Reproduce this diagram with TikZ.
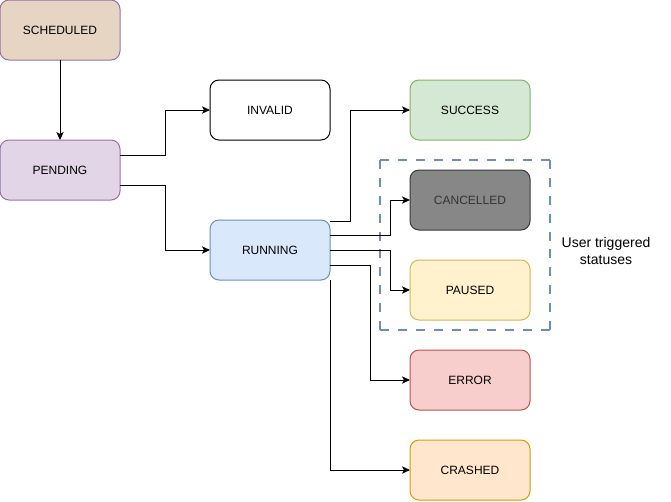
\documentclass[tikz,border=0pt]{standalone}
\usepackage{fontspec}
\setmainfont{Liberation Sans}
\usetikzlibrary{arrows.meta,calc}
\definecolor{schedfill}{HTML}{E6D5C3}
\definecolor{purplestroke}{HTML}{9673A6}
\definecolor{pendfill}{HTML}{E1D5E7}
\definecolor{runfill}{HTML}{DAE8FC}
\definecolor{bluestroke}{HTML}{6C8EBF}
\definecolor{succfill}{HTML}{D5E8D4}
\definecolor{greenstroke}{HTML}{82B366}
\definecolor{cancfill}{HTML}{878787}
\definecolor{cancstroke}{HTML}{36393D}
\definecolor{canctext}{HTML}{333333}
\definecolor{pausfill}{HTML}{FFF2CC}
\definecolor{pausstroke}{HTML}{D6B656}
\definecolor{errfill}{HTML}{F8CECC}
\definecolor{errstroke}{HTML}{B85450}
\definecolor{crashfill}{HTML}{FFE6CC}
\definecolor{crashstroke}{HTML}{D79B00}
\tikzset{
  state/.style={draw, rounded corners=6.75pt, minimum width=90pt, minimum height=45pt,
    line width=0.75pt, outer sep=0pt, inner sep=0pt, font=\fontsize{9}{11}\selectfont},
  arr/.style={draw, line width=0.75pt, -{Stealth[length=6pt,width=5.5pt,inset=1.5pt]}},
  ugbox/.style={minimum width=127.5pt, minimum height=127.5pt, inner sep=0pt, outer sep=0pt},
  ugline/.style={draw=bluestroke, line width=2pt, dash pattern=on 6.71pt off 6.71pt},
  lbl/.style={align=center, font=\fontsize{10.5}{12.5}\selectfont, inner sep=0pt}
}
\begin{document}
\begin{tikzpicture}[x=0.75pt, y=-0.75pt]
\useasboundingbox (0,0) rectangle (671,501);
\node[ugbox] (ug) at (465,245) {};
\draw[ugline] (ug.north west) -- (ug.north east);
\draw[ugline] (ug.north east) -- (ug.south east);
\draw[ugline] (ug.south east) -- (ug.south west);
\draw[ugline] (ug.south west) -- (ug.north west);
\node[lbl] (uglbl) at (606,251) {User triggered\\statuses};
\node[state, fill=schedfill, draw=purplestroke] (sched) at (60,30) {SCHEDULED};
\node[state, fill=pendfill, draw=purplestroke] (pend) at (60,170) {PENDING};
\node[state, fill=white, draw=black] (inv) at (270,110) {INVALID};
\node[state, fill=runfill, draw=bluestroke] (run) at (270,250) {RUNNING};
\node[state, fill=succfill, draw=greenstroke] (succ) at (470,110) {SUCCESS};
\node[state, fill=cancfill, draw=cancstroke, text=canctext] (canc) at (470,200) {CANCELLED};
\node[state, fill=pausfill, draw=pausstroke] (paus) at (470,290) {PAUSED};
\node[state, fill=errfill, draw=errstroke] (err) at (470,380) {ERROR};
\node[state, fill=crashfill, draw=crashstroke] (crash) at (470,470) {CRASHED};
\draw[arr] (sched.south) -- (pend.north);
\draw[arr] ($(pend.east)+(0,-15)$) -- ++(45,0) |- (inv.west);
\draw[arr] ($(pend.east)+(0,15)$) -- ++(45,0) |- (run.west);
\draw[arr] ($(run.north east)+(0,1)$) -- ++(20,0) |- (succ.west);
\draw[arr] ($(run.east)+(0,-15)$) -- ++(60,0) |- (canc.west);
\draw[arr] (run.east) -- ++(60,0) |- (paus.west);
\draw[arr] ($(run.east)+(0,15)$) -- ++(40,0) |- (err.west);
\draw[arr] (run.south east) |- (crash.west);
\end{tikzpicture}
\end{document}
